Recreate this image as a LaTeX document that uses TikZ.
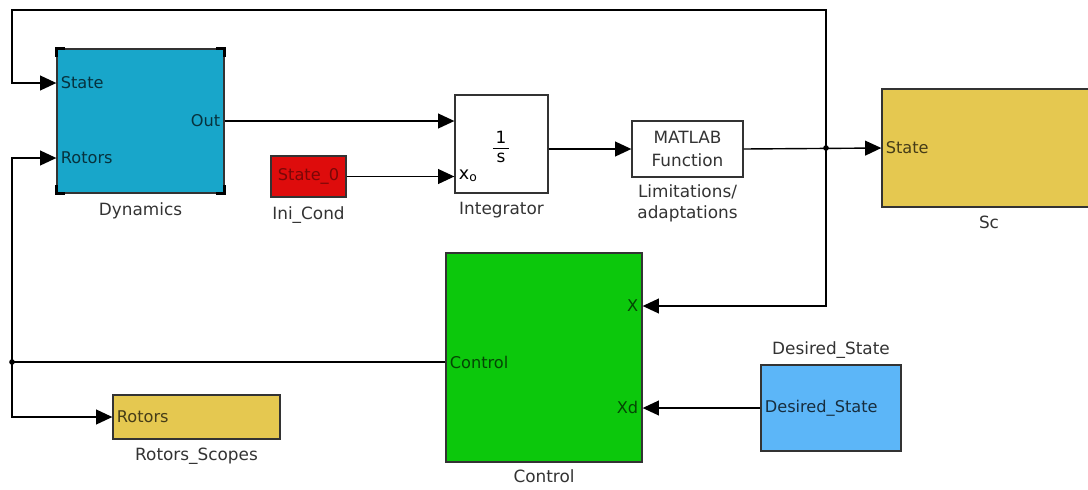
\documentclass[tikz,border=0pt]{standalone}
\usepackage{fontspec}
\setmainfont{DejaVu Sans}
\usetikzlibrary{arrows.meta,calc,positioning}
\definecolor{cdyn}{RGB}{24,166,202}
\definecolor{cini}{RGB}{222,12,12}
\definecolor{cscope}{RGB}{229,200,80}
\definecolor{cctrl}{RGB}{12,200,12}
\definecolor{cdes}{RGB}{92,182,248}
\tikzset{
  blk/.style={rectangle,draw=black!80,line width=0.9pt,inner sep=0pt},
  port/.style={font=\fontsize{11.5}{13}\selectfont,inner sep=3pt},
  lbl/.style={font=\fontsize{12}{15}\selectfont,text=black!80,inner sep=1pt},
  sig/.style={-{Triangle[length=11.5pt,width=10.5pt]},line width=1pt},
  wire/.style={line width=1pt},
  jdot/.style={circle,fill=black,inner sep=0pt,minimum size=4pt},
  handle/.style={line width=2pt,line cap=rect}
}
\begin{document}
\begin{tikzpicture}[x=0.025cm,y=-0.025cm]
  \useasboundingbox (0,0) rectangle (1088,489);
  % blocks
  \node[blk,fill=cdyn,minimum width=4.175cm,minimum height=3.6cm] (dyn) at (140.5,121) {};
  \node[blk,fill=cini,minimum width=1.875cm,minimum height=1.025cm] (ic) at (308.5,176.5) {};
  \node[blk,fill=white,minimum width=2.325cm,minimum height=2.45cm] (int) at (501.5,144) {};
  \node[blk,fill=white,minimum width=2.775cm,minimum height=1.4cm,align=center,
    font=\fontsize{12}{16}\selectfont,text=black!80] (mf) at (687.5,149) {MATLAB\\Function};
  \node[blk,fill=cscope,minimum width=5.35cm,minimum height=2.95cm] (sc) at (989,148) {};
  \node[blk,fill=cctrl,minimum width=4.9cm,minimum height=5.225cm] (ctrl) at (544,357.5) {};
  \node[blk,fill=cdes,minimum width=3.5cm,minimum height=2.15cm] (ds) at (831,408) {};
  \node[blk,fill=cscope,minimum width=4.175cm,minimum height=1.1cm] (rs) at (196.5,417) {};
  % selection handles
  \foreach \c/\dx/\dy in {north west/1/1,north east/-1/1,south west/1/-1,south east/-1/-1}
    \draw[handle] ($(dyn.\c)+(0,7*\dy)$) -- (dyn.\c) -- ($(dyn.\c)+(7*\dx,0)$);
  % block names
  \node[lbl,below=5pt of dyn] {Dynamics};
  \node[lbl,below=5pt of ic] {Ini\_Cond};
  \node[lbl,below=5pt of int] {Integrator};
  \node[lbl,below=4pt of mf,align=center] {Limitations/\\adaptations};
  \node[lbl,below=5pt of sc] {Sc};
  \node[lbl,below=4pt of ctrl] {Control};
  \node[lbl,above=3pt of ds] {Desired\_State};
  \node[lbl,below=5pt of rs] {Rotors\_Scopes};
  % port texts
  \node[port,anchor=west,text=cdyn!30!black] at (dyn.west |- 0,83) {State};
  \node[port,anchor=west,text=cdyn!30!black] at (dyn.west |- 0,158) {Rotors};
  \node[port,anchor=east,text=cdyn!30!black] at (dyn.east) {Out};
  \node[port,text=cini!55!black] at (ic.center) {State\_0};
  \node[port,anchor=west,font=\fontsize{12.5}{14}\selectfont] at (int.west |- 0,176) {x\textsubscript{o}};
  \node[port,font=\fontsize{12}{14}\selectfont] at (501,149)
    {\begin{tabular}{@{}c@{}}\,1\,\\[-1pt]\hline s\end{tabular}};
  \node[port,anchor=west,text=cscope!30!black] at (sc.west) {State};
  \node[port,anchor=east,text=cctrl!35!black] at (ctrl.east |- 0,306) {X};
  \node[port,anchor=east,text=cctrl!35!black] at (ctrl.east |- 0,407) {Xd};
  \node[port,anchor=west,text=cctrl!35!black] at (ctrl.west |- 0,362) {Control};
  \node[port,anchor=west,text=cdes!25!black] at (ds.west) {Desired\_State};
  \node[port,anchor=west,text=cscope!30!black] at (rs.west) {Rotors};
  % branch points
  \coordinate (topL) at (12,10);
  \node[jdot] (jS) at (826,148) {};
  \node[jdot] (jC) at (12,362) {};
  % signals
  \draw[sig] (dyn.east) -- (int.west |- dyn.east);
  \draw[sig] (ic.east) -- (int.west |- ic.east);
  \draw[sig] (int.east |- mf.west) -- (mf.west);
  \draw[sig] (mf.east) -- (sc.west);
  \draw[sig] (jS.center) |- (topL) |- (dyn.west |- 0,83);
  \draw[sig] (jS.center) |- (ctrl.east |- 0,306);
  \draw[wire] (ctrl.west |- 0,362) -- (jC.center);
  \draw[sig] (jC.center) |- (dyn.west |- 0,158);
  \draw[sig] (jC.center) |- (rs.west);
  \draw[sig] (ds.west) -- (ctrl.east |- ds.west);
\end{tikzpicture}
\end{document}
